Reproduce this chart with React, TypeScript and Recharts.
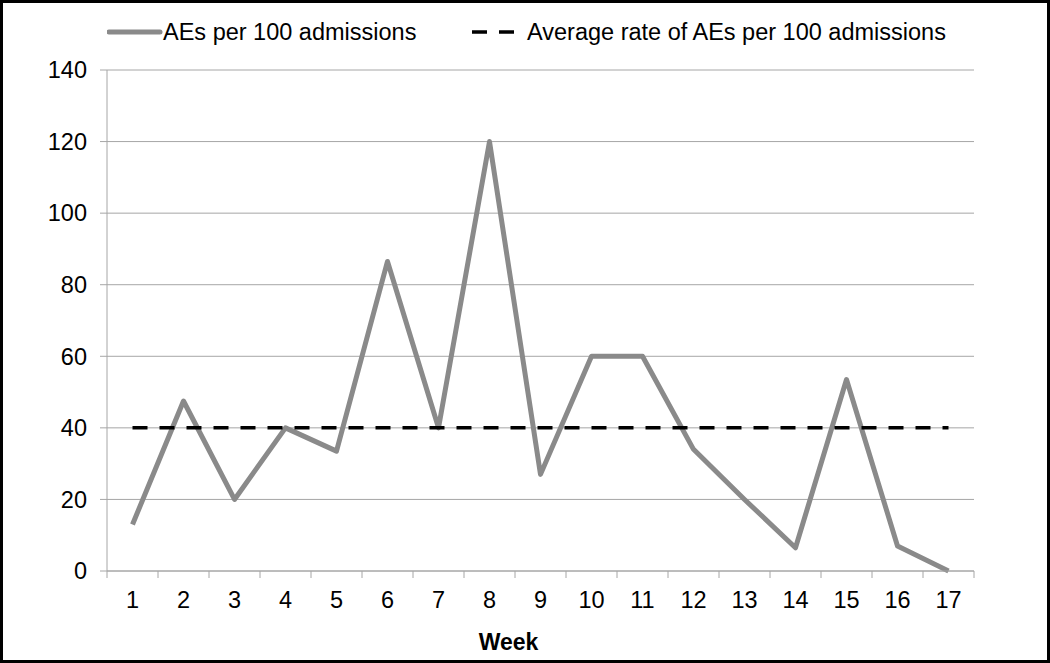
import { LineChart, Line, XAxis, YAxis, CartesianGrid } from 'recharts';

const weeks = [1, 2, 3, 4, 5, 6, 7, 8, 9, 10, 11, 12, 13, 14, 15, 16, 17];
const aesPer100 = [13, 47.5, 20, 40, 33.5, 86.5, 40, 120, 27, 60, 60, 34, 20, 6.5, 53.5, 7, 0];
const averageRate = 40;
const yTicks = [0, 20, 40, 60, 80, 100, 120, 140];
const boundaryTicks = [0.5, 1.5, 2.5, 3.5, 4.5, 5.5, 6.5, 7.5, 8.5, 9.5, 10.5, 11.5, 12.5, 13.5, 14.5, 15.5, 16.5, 17.5];

const seriesName = 'AEs per 100 admissions';
const averageName = 'Average rate of AEs per 100 admissions';

const chartData = weeks.map((week, i) => ({
  week,
  aes: aesPer100[i],
  avg: averageRate,
}));

const FONT = '"Liberation Sans", Arial, sans-serif';
const GRID = '#a6a6a6';
const HALF_BAND = 25.5;
const FS = 23.5;

function WeekTick(props: any) {
  const { x, y, payload } = props;
  const v = payload.value as number;
  const label = v + 0.5;
  return (
    <g>
      <line x1={x} y1={y} x2={x} y2={y + 7} stroke={GRID} strokeWidth={1} />
      {label <= 17 && (
        <text x={x + HALF_BAND} y={y + 37} textAnchor="middle" fontSize={FS} fontFamily={FONT} fill="#000">
          {label}
        </text>
      )}
    </g>
  );
}

export default function App() {
  return (
    <div style={{ position: 'absolute', left: 0, top: 0, width: 1050, height: 663, background: '#fff' }}>
      <LineChart
        width={1050}
        height={663}
        data={chartData}
        margin={{ top: 70, right: 76, left: 0, bottom: 0 }}
      >
        <CartesianGrid vertical={false} stroke={GRID} strokeWidth={1} />
        <XAxis
          dataKey="week"
          type="number"
          domain={[0.5, 17.5]}
          ticks={boundaryTicks}
          interval={0}
          height={92}
          tickSize={0}
          tickMargin={0}
          tickLine={false}
          axisLine={{ stroke: GRID }}
          tick={<WeekTick />}
          label={{
            value: 'Week',
            position: 'insideBottom',
            offset: 13,
            dx: -32,
            style: { fontFamily: FONT, fontSize: 23, fontWeight: 'bold', fill: '#000' },
          }}
        />
        <YAxis
          domain={[0, 140]}
          ticks={yTicks}
          interval={0}
          width={107}
          tickSize={7}
          tickMargin={13}
          tickLine={{ stroke: GRID }}
          axisLine={{ stroke: GRID }}
          tick={{ fontFamily: FONT, fontSize: FS, fill: '#000' }}
        />
        <Line
          dataKey="aes"
          name={seriesName}
          type="linear"
          stroke="#8a8a8a"
          strokeWidth={5}
          strokeLinejoin="round"
          dot={false}
          activeDot={false}
          isAnimationActive={false}
        />
        <Line
          dataKey="avg"
          name={averageName}
          type="linear"
          stroke="#000"
          strokeWidth={3.5}
          strokeDasharray="15 12"
          dot={false}
          activeDot={false}
          isAnimationActive={false}
        />
      </LineChart>

      {/* legend */}
      <div style={{ position: 'absolute', left: 107, top: 16, height: 32, display: 'flex', alignItems: 'center', fontFamily: FONT, fontSize: FS, color: '#000', whiteSpace: 'nowrap' }}>
        <svg width={56} height={10}>
          <line x1={2} y1={5} x2={53} y2={5} stroke="#8a8a8a" strokeWidth={5} strokeLinecap="round" />
        </svg>
        <span>{seriesName}</span>
      </div>
      <div style={{ position: 'absolute', left: 472, top: 16, height: 32, display: 'flex', alignItems: 'center', fontFamily: FONT, fontSize: FS, color: '#000', whiteSpace: 'nowrap' }}>
        <svg width={55} height={10}>
          <line x1={0} y1={5} x2={42} y2={5} stroke="#000" strokeWidth={3.5} strokeDasharray="15 12" />
        </svg>
        <span>{averageName}</span>
      </div>

      {/* frame */}
      <div style={{ position: 'absolute', inset: 0, border: '3px solid #000', boxSizing: 'border-box', pointerEvents: 'none' }} />
    </div>
  );
}
